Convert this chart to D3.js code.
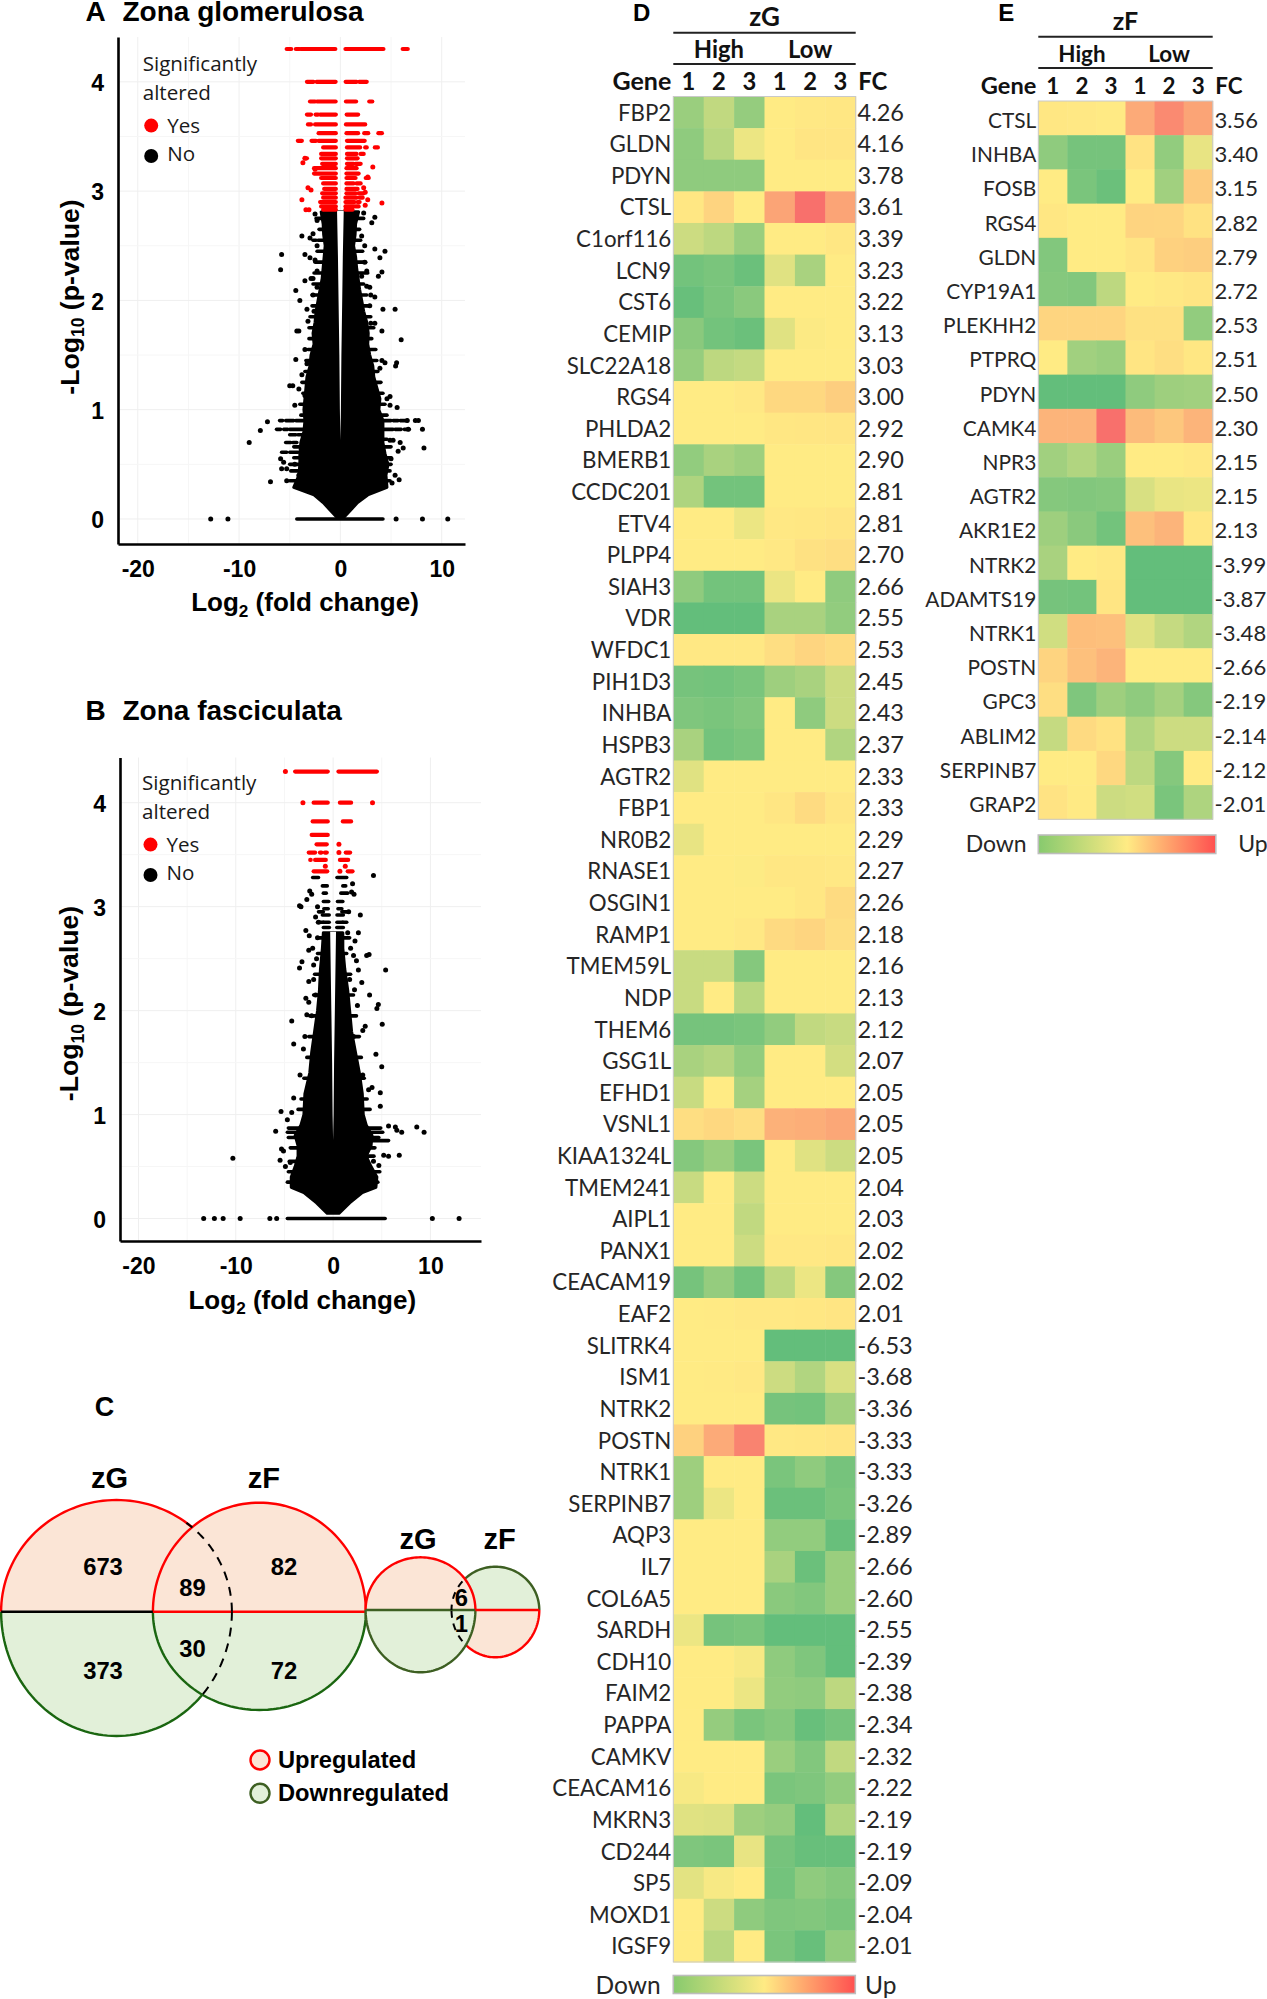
<!DOCTYPE html>
<html lang="en">
<head>
<meta charset="utf-8">
<title>Zona glomerulosa and zona fasciculata expression</title>
<script src="https://cdn.jsdelivr.net/npm/d3@7"></script>
<style>
  body { margin: 0; background: #fff; }
  svg { display: block; }
  text { font-family: "Liberation Sans", Arial, sans-serif; fill: #000; }
  .cal { font-family: Lato, "Liberation Sans", sans-serif; fill: #262626; }
  .leg { font-family: "Open Sans", sans-serif; fill: #1a1a1a; }
</style>
</head>
<body>
<svg id="fig" width="1267" height="1999"></svg>
<script>
// ---- panel A, zona glomerulosa: dense cloud outline
var aMassP = [2.81,2.7,2.6,2.5,2.4,2.3,2.2,2.1,2.0,1.9,1.8,1.7,1.6,1.5,1.4,1.3,1.2,1.1,1.0,0.9,0.8,0.7,0.6,0.5,0.4,0.29,0.22,0.15,0.08,0.02];
var aMassL = [-1.9,-1.7,-1.65,-1.5,-1.6,-1.7,-1.8,-2.0,-2.2,-2.4,-2.5,-2.7,-2.6,-2.9,-3.0,-3.3,-3.4,-3.5,-3.6,-3.5,-3.6,-3.9,-4.0,-4.0,-4.1,-4.6,-2.6,-1.7,-1.0,-0.4];
var aMassR = [1.8,1.5,1.45,1.3,1.5,1.6,1.75,1.9,2.1,2.3,2.6,2.75,2.7,2.9,3.2,3.3,3.6,3.9,3.8,4.2,4.2,4.2,4.4,4.7,4.5,4.6,2.7,1.7,1.0,0.4];
var aGapP = [2.82,2.4,2.0,1.5,1.0,0.72];
var aGapW = [0.33,0.24,0.18,0.1,0.05,0];
// rows of points sharing one p-value: [p, [from, to], ...]
var aRedRows = [
  [4.30,[-5.3,-4.85],[-4.4,-4.05],[-3.9,-0.5],[0.5,4.25],[6.15,6.65]],
  [4.00,[-3.3,-2.65],[-2.35,-0.47],[0.52,1.6],[1.85,2.6]],
  [3.82,[-3.0,-2.5],[-2.3,-0.47],[0.55,1.55],[2.85,3.15]],
  [3.70,[-3.3,-2.9],[-2.45,-2.2],[-2.0,-0.45],[0.62,1.75]],
  [3.61,[-3.2,-2.9],[-2.5,-0.45],[0.55,2.45]],
  [3.53,[-2.15,-0.45],[0.6,1.75],[2.35,2.75],[3.75,4.1]],
  [3.46,[-4.2,-3.8],[-2.85,-2.4],[-2.15,-0.45],[0.65,2.4]],
  [3.40,[-1.7,-0.45],[0.65,1.95],[2.45,2.6],[3.4,3.7]],
  [3.34,[-1.9,-0.45],[0.65,1.6],[2.0,2.3]],
  [3.30,[-1.9,-0.45],[0.65,1.7],[-3.5,-3.3]],
  [3.25,[-1.8,-0.45],[0.65,1.3],[1.5,2.0]],
  [3.21,[-2.6,-0.45],[0.6,1.6]],
  [3.16,[-2.6,-0.45],[0.6,1.8]],
  [3.12,[-1.9,-0.45],[0.6,1.5],[2.5,2.8]],
  [3.07,[-1.7,-0.45],[0.6,1.3],[1.6,2.0]],
  [3.02,[-1.6,-0.45],[0.6,1.7]],
  [2.98,[-1.8,-0.45],[0.6,1.5],[1.8,2.3]],
  [2.94,[-1.7,-0.45],[0.5,1.6],[1.9,2.2]],
  [2.90,[-2.0,-0.45],[0.5,1.4],[1.7,1.9]],
  [2.86,[-1.9,-0.45],[0.5,1.3],[1.5,1.8]],
  [2.83,[-1.7,-0.45],[0.5,1.2]]
];
var aRedDots = [[-3.8,2.92],[-3.4,2.83],[-3.1,2.83],[-3.2,3.03],[-2.9,3.01],[-3.7,3.26],[-3.5,3.3],[-2.5,3.2],[4.1,2.89],[3.2,3.22],[2.7,3.13],[2.3,3.03],[2.45,2.99],[2.7,2.92],[2.45,2.87]];
var aBlackRows = [
  [0.90,[-6.0,-5.7],[-5.4,-4.6],[-4.4,-3.6],[3.2,5.0],[5.2,5.7],[5.9,6.6]],
  [0.82,[-6.3,-5.9],[-5.6,-5.2],[-5.0,-3.5],[3.5,5.2],[5.4,6.0],[6.3,6.8]],
  [0.77,[-5.0,-4.4],[-4.2,-3.4]],
  [0.70,[-5.4,-4.9],[-4.7,-4.3]],
  [0.61,[-5.8,-5.3],[-5.0,-4.2],[-4.0,-3.6]],
  [0.0,[-4.3,4.2]],
  [2.75,[-2.4,-1.7],[1.5,2.3]],[2.65,[-2.1,-1.6],[1.4,1.9]],[2.55,[-2.7,-2.4],[-2.2,-1.6],[1.3,2.0]],
  [2.45,[-2.3,-1.5],[1.3,2.2]],[2.35,[-2.5,-1.6],[1.5,2.5]],[2.25,[-2.6,-1.7],[1.6,2.7]],
  [2.15,[-2.7,-1.9],[1.8,2.3]],[2.05,[-2.8,-2.1],[2.0,2.6]],[1.95,[-2.8,-2.3],[2.2,2.8]],
  [1.85,[-3.0,-2.4],[2.4,3.0]],[1.75,[-3.1,-2.6],[2.7,3.3]],[1.65,[-3.1,-2.6],[2.7,3.1]],
  [1.55,[-3.2,-2.8],[2.8,3.5]],[1.45,[-3.4,-2.9],[3.0,3.6]],[1.35,[-3.5,-3.2],[3.2,3.7]],
  [1.25,[-3.8,-3.3],[3.5,4.0]],[1.15,[-3.7,-3.4],[3.7,4.2]],[1.05,[-4.0,-3.5],[3.8,4.4]],
  [0.95,[-3.9,-3.5],[4.0,4.6]],[0.73,[3.9,4.6]],[0.66,[-4.6,-3.9],[4.0,5.0]],[0.56,[-4.6,-3.9],[4.2,5.0]],
  [0.50,[-5.0,-3.9],[4.5,5.0]],[0.44,[-4.9,-4.0],[4.4,4.9]],[0.35,[-5.0,-4.2],[4.4,4.9]]
];
var aBlackDots = [[-5.8,2.42],[-5.9,2.28],[-4.4,2.09],[-4,2],[-3.3,1.92],[-4.3,1.72],[-4.1,1.72],[-3.2,1.81],[-4.4,1.46],[-3.5,1.55],[-3.3,1.42],[-3.8,1.32],[-5,1.22],[-4.7,1.22],[-4.1,1.19],[-4.5,1.04],[-3.5,1.13],
  [-7.2,0.89],[-7.9,0.81],[-9,0.7],[-5.9,0.55],[-5.6,0.52],[-5.8,0.46],[-6.9,0.34],[-5.3,0.35],[-4.1,0.4],[-5.3,0.46],[-4.5,0.5],
  [-12.8,0],[-11.1,0],[5.5,0],[8.1,0],[10.6,0],
  [-2.5,2.79],[-2.3,2.73],[-3.8,2.59],[-3,2.57],[-2.7,2.61],[-3.5,2.42],[-2.3,2.5],[-2.5,2.37],[-3,2.39],[-2.3,2.27],[-2.7,2.2],[-3.5,2.18],[-2.3,2.12],[-2.7,2.05],[-2.9,2.2],[-2.6,1.9],
  [4.4,2.45],[3.4,2.47],[3.9,2.39],[4.1,2.26],[3.75,2.22],[3.4,2.03],[2.9,2.12],[5.4,1.92],[4.2,1.92],[4.1,1.72],[6,1.64],[3.4,1.79],[3,1.79],[5.55,1.43],[5.45,1.4],[4.1,1.45],[4.4,1.43],[3.9,1.38],[4.9,1.12],[4.6,1.1],[4.9,1.04],[5.6,1.02],
  [2.3,2.8],[3.4,2.76],[3.1,2.71],[2.1,2.59],[2.4,2.5],[2.4,2.35],[2.6,2.27],[2.1,2.22],[2.6,2.13],[3,2.05],[2.9,1.95],
  [6.6,0.9],[7.4,0.9],[7.7,0.9],[6.7,0.82],[8.1,0.82],[8.25,0.65],[5.9,0.7],[6.2,0.65],[5.7,0.62],[4.9,0.72],[5.2,0.72],[5.4,0.4],[5.8,0.36],[5.1,0.33],[5,0.55]];

// ---- panel B, zona fasciculata
var bMassP = [2.75,2.6,2.4,2.2,2.0,1.8,1.6,1.4,1.2,1.0,0.9,0.8,0.7,0.6,0.5,0.4,0.3,0.25,0.15,0.05];
var bMassL = [-1.0,-1.1,-1.3,-1.4,-1.6,-1.9,-2.2,-2.4,-2.9,-3.0,-3.3,-3.9,-3.6,-3.6,-3.9,-4.3,-4.3,-3.0,-1.7,-0.6];
var bMassR = [1.0,1.0,1.2,1.5,1.7,1.9,2.3,2.7,3.0,3.1,3.4,4.0,3.9,3.4,3.9,4.5,4.4,3.0,1.7,0.6];
var bGapP = [2.76,2.0,1.5,1.0,0.75];
var bGapW = [0.3,0.18,0.1,0.05,0];
var bRedRows = [
  [4.30,[-3.9,-0.55],[0.55,4.5]],
  [4.00,[-2.0,-0.55],[0.7,1.85]],
  [3.82,[-2.1,-0.55],[1.0,1.85]],
  [3.69,[-2.2,-0.55]],
  [3.60,[-1.7,-0.65]],
  [3.52,[-2.5,-1.85],[-1.35,-1.2],[-0.85,-0.65],[1.3,1.75]],
  [3.45,[-2.35,-2.3],[-1.85,-0.75],[0.7,1.55]],
  [3.34,[-2.0,-0.6],[1.5,2.0]]
];
var bRedDots = [[-4.9,4.3],[-3.1,4.0],[4.05,4.0],[0.6,3.6],[0.6,3.52],[-0.8,3.39],[1.25,3.39],[0.7,3.34]];
var bBlackRows = [
  [3.28,[-2.1,-1.5],[0.4,1.4]],
  [3.2,[-1.1,-0.6],[1.0,1.3]],
  [3.13,[-1.0,-0.7],[0.8,1.5]],
  [3.05,[-1.0,-0.45],[0.45,1.0]],[2.98,[-0.95,-0.5],[0.5,0.9]],[2.92,[-1.1,-0.4],[0.4,1.05]],
  [2.85,[-1.0,-0.4],[0.4,1.0]],[2.8,[-1.0,-0.38],[0.38,1.05]],
  [0.87,[-4.6,-3.0],[3.6,4.9]],
  [0.83,[-4.7,-2.8],[3.1,5.1]],
  [0.78,[-4.6,-3.0],[3.0,4.7]],
  [0.75,[2.8,5.7]],
  [0.60,[2.5,4.2]],
  [0.0,[-4.7,5.35]],
  [2.95,[-1.5,-1.0],[0.9,1.5]],[2.85,[-1.6,-1.0],[1.0,1.4]],[2.7,[-1.4,-1.0],[1.0,1.7]],
  [2.55,[-1.6,-1.0],[0.9,1.4]],[2.35,[-1.9,-1.2],[1.1,1.8]],[2.15,[-2.0,-1.3],[1.4,2.1]],
  [1.95,[-2.4,-1.5],[1.6,2.4]],[1.75,[-2.5,-1.8],[1.8,2.7]],[1.55,[-2.7,-2.1],[2.2,2.9]],
  [1.35,[-3.0,-2.4],[2.6,3.2]],[1.15,[-3.3,-2.8],[2.9,3.5]],[1.05,[-3.6,-2.9],[3.0,3.8]],
  [0.68,[-4.4,-3.5],[3.8,4.3]],[0.55,[-4.5,-3.5]],[0.45,[-4.6,-3.9],[3.9,4.8]],[0.35,[-4.7,-4.2],[4.3,4.6]]
];
var bBlackDots = [[4.15,3.3],[-4.25,1.9],[-4.05,1.68],[-3.45,3.01],[-3.3,3],[-2.7,3.07],[-2.4,3.15],[-2.2,3.12],[-2.8,2.77],[-2.45,2.72],[-2.5,2.58],[-3.2,2.47],[-3.45,2.41],[-2.5,2.28],[-2,2.44],[-2.8,2.12],[-2.7,1.96],[-2.5,2.08],[-2.9,1.75],[-3.05,1.63],[-3.4,1.38],[-4.05,1.16],[-5.35,1.03],[-4.7,0.95],[-4.25,1.02],[-5.9,0.84],[-10.3,0.58],[-5.45,0.56],[-5.1,0.65],[-5.3,0.67],[-4.9,0.5],[-4.4,0.54],
  [-1.8,2.9],[-1.6,2.7],[-2.1,2.6],[-1.7,2.5],[-2.0,2.3],[-1.8,2.15],[-2.2,1.95],[-1.6,3.0],[-1.5,2.85],
  [2.8,2.92],[2,3.22],[1.9,3.14],[2.15,3.12],[3.45,2.53],[3.7,2.54],[5.4,2.39],[2.6,2.75],[2.25,2.67],[2.1,2.53],[2.4,2.48],[2.6,2.39],[2.95,2.27],[3.75,2.15],[4.65,2.06],[4.5,2.02],[5.05,1.87],[3.3,1.85],[3.05,1.81],[4.4,1.58],[5,1.46],[4.85,1.21],[4.85,1.08],[4,1.26],[3.65,1.24],[3.05,1.38],
  [1.6,2.95],[1.5,2.75],[1.8,2.6],[1.7,2.3],[2.2,2.2],[2.5,2.05],[2.1,1.75],
  [5.7,0.89],[6.4,0.88],[6.55,0.85],[7.05,0.83],[8.6,0.88],[9.35,0.83],[5.2,0.61],[5.7,0.6],[6.8,0.61],[4.7,0.51],[4.15,0.55],
  [-13.3,0],[-12.2,0],[-11.3,0],[-9.55,0],[-6.5,0],[-5.8,0],[10.2,0],[12.95,0]];

var xTicks = [-20,-10,0,10];
var xMinorTicks = [-15,-5,5];
var yTicks = [0,1,2,3,4];
var yMinorTicks = [0.5,1.5,2.5,3.5];

// ---- panel C
var vennLeftCounts = ["673","89","82","373","30","72"];
var vennRightCounts = ["6","1"];
var vennLegend = ["Upregulated","Downregulated"];

// ---- panel D
var genesD = ["FBP2","GLDN","PDYN","CTSL","C1orf116","LCN9","CST6","CEMIP","SLC22A18","RGS4","PHLDA2","BMERB1","CCDC201","ETV4","PLPP4","SIAH3","VDR","WFDC1","PIH1D3","INHBA","HSPB3","AGTR2","FBP1","NR0B2","RNASE1","OSGIN1","RAMP1","TMEM59L","NDP","THEM6","GSG1L","EFHD1","VSNL1","KIAA1324L","TMEM241","AIPL1","PANX1","CEACAM19","EAF2","SLITRK4","ISM1","NTRK2","POSTN","NTRK1","SERPINB7","AQP3","IL7","COL6A5","SARDH","CDH10","FAIM2","PAPPA","CAMKV","CEACAM16","MKRN3","CD244","SP5","MOXD1","IGSF9"];
var fcD = ["4.26","4.16","3.78","3.61","3.39","3.23","3.22","3.13","3.03","3.00","2.92","2.90","2.81","2.81","2.70","2.66","2.55","2.53","2.45","2.43","2.37","2.33","2.33","2.29","2.27","2.26","2.18","2.16","2.13","2.12","2.07","2.05","2.05","2.05","2.04","2.03","2.02","2.02","2.01","-6.53","-3.68","-3.36","-3.33","-3.33","-3.26","-2.89","-2.66","-2.60","-2.55","-2.39","-2.38","-2.34","-2.32","-2.22","-2.19","-2.19","-2.09","-2.04","-2.01"];
var heatD = [
[-.65,-.4,-.68,0,.02,.03],[-.72,-.45,-.12,0,.05,.05],[-.72,-.72,-.72,0,0,0],[.03,.18,0,.55,.95,.55],[-.33,-.42,-.65,0,0,.03],
[-.9,-.85,-.95,-.2,-.55,0],[-.97,-.85,-.75,0,0,0],[-.75,-.9,-.95,-.2,-.02,0],[-.67,-.42,-.38,0,0,0],[0,0,.02,.15,.15,.22],
[0,0,0,.03,.04,.05],[-.7,-.55,-.62,0,0,0],[-.52,-.9,-.9,0,0,0],[0,0,-.12,.02,.03,.05],[0,0,0,.02,.08,.1],
[-.72,-.9,-.9,-.13,0,-.72],[-1,-1,-1,-.55,-.55,-.7],[.02,.02,.02,.1,.17,.12],[-.88,-.9,-.85,-.62,-.55,-.33],[-.82,-.85,-.8,0,-.72,-.33],
[-.55,-.9,-.85,0,0,-.5],[-.2,0,0,0,0,0],[0,0,0,.04,.12,.04],[-.15,0,0,0,0,0],[0,0,-.01,.03,.03,.02],
[0,0,0,0,.03,.12],[0,0,.02,.13,.17,.1],[-.35,-.35,-.78,0,0,0],[-.35,0,-.45,0,0,0],[-.88,-.88,-.85,-.7,-.4,-.35],
[-.55,-.48,-.7,0,0,-.28],[-.35,0,-.58,0,0,0],[.1,.15,.1,.45,.47,.52],[-.78,-.65,-.85,0,-.2,-.33],[-.35,0,-.33,0,0,0],
[0,0,-.4,0,0,0],[0,0,-.33,.02,.02,.03],[-.88,-.68,-.9,-.42,-.12,-.78],[0,.01,.02,.02,.03,.05],[0,0,0,-1,-1,-1],
[0,.01,.02,-.33,-.5,-.25],[0,0,0,-.88,-.9,-.6],[.2,.5,.8,.02,.03,.05],[-.62,0,0,-.85,-.72,-.88],[-.62,-.12,0,-.95,-.95,-.85],
[0,0,0,-.7,-.7,-.97],[0,0,0,-.55,-.95,-.65],[0,0,0,-.75,-.8,-.65],[-.12,-.88,-.85,-1,-1,-1],[0,0,-.05,-.72,-.82,-1],
[0,0,-.12,-.7,-.72,-.42],[0,-.68,-.85,-.78,-.97,-.88],[0,0,0,-.65,-.8,-.4],[-.05,0,0,-.85,-.82,-.7],[-.2,-.22,-.62,-.68,-1,-.5],
[-.82,-.85,-.15,-.88,-.97,-.97],[-.18,-.05,0,-.9,-.72,-.78],[0,-.33,-.72,-.82,-.8,-.85],[0,-.45,0,-.85,-.97,-.7]];

// ---- panel E
var genesE = ["CTSL","INHBA","FOSB","RGS4","GLDN","CYP19A1","PLEKHH2","PTPRQ","PDYN","CAMK4","NPR3","AGTR2","AKR1E2","NTRK2","ADAMTS19","NTRK1","POSTN","GPC3","ABLIM2","SERPINB7","GRAP2"];
var fcE = ["3.56","3.40","3.15","2.82","2.79","2.72","2.53","2.51","2.50","2.30","2.15","2.15","2.13","-3.99","-3.87","-3.48","-2.66","-2.19","-2.14","-2.12","-2.01"];
var heatE = [
[.03,.02,.01,.5,.75,.55],[-.72,-.88,-.88,.06,-.7,-.15],[0,-.85,-.95,0,-.6,.25],[.03,0,0,.18,.17,.07],[-.8,0,0,.05,.2,.22],
[-.78,-.8,-.42,0,.02,.05],[.17,.17,.17,.08,.08,-.7],[0,-.6,-.65,.05,.1,.03],[-1,-1,-1,-.72,-.62,-.6],[.42,.42,.95,.37,.28,.42],
[-.6,-.5,-.65,0,0,.02],[-.78,-.8,-.78,-.25,-.14,-.12],[-.62,-.75,-.9,.33,.42,.03],[-.55,0,.02,-1,-1,-1],[-.88,-.9,.05,-1,-1,-1],
[-.3,.35,.33,-.2,-.37,-.5],[.18,.33,.42,0,0,0],[.1,-.82,-.62,-.72,-.58,-.78],[-.37,.13,.07,-.5,-.33,-.33],[0,0,.15,-.42,-.78,0],[.06,.01,-.33,-.3,-.85,-.52]];

var sampleCols = ["1","2","3","1","2","3"];

var svg = d3.select("#fig");

// -Log10 and Log2 labels need a lowered digit, so they are built from tspans
function subLabel(g, before, sub, after, size) {
  var t = g.append("text").attr("font-weight", "bold").attr("font-size", size).attr("text-anchor", "middle");
  t.append("tspan").text(before);
  t.append("tspan").attr("font-size", size * 0.66).attr("dy", size * 0.22).text(sub);
  t.append("tspan").attr("dy", -size * 0.22).text(after);
  return t;
}

function volcano(p) {
  var x = d3.scaleLinear().domain(p.xDomain).range([p.left, p.right]);
  var y = d3.scaleLinear().domain(p.yDomain).range([p.bottom, p.top]);
  var g = svg.append("g");

  // faint grid first
  g.append("g").selectAll("line").data(xMinorTicks).enter().append("line")
    .attr("x1", x).attr("x2", x).attr("y1", p.top).attr("y2", p.bottom).attr("stroke", "#f6f6f6");
  g.append("g").selectAll("line").data(xTicks).enter().append("line")
    .attr("x1", x).attr("x2", x).attr("y1", p.top).attr("y2", p.bottom).attr("stroke", "#efefef");
  g.append("g").selectAll("line").data(yMinorTicks).enter().append("line")
    .attr("y1", y).attr("y2", y).attr("x1", p.left).attr("x2", p.right).attr("stroke", "#f6f6f6");
  g.append("g").selectAll("line").data(yTicks).enter().append("line")
    .attr("y1", y).attr("y2", y).attr("x1", p.left).attr("x2", p.right).attr("stroke", "#efefef");

  var idx = d3.range(p.massP.length);
  g.append("path")
    .attr("d", d3.area().y(function(i) { return y(p.massP[i]); })
      .x0(function(i) { return x(p.massL[i]); })
      .x1(function(i) { return x(p.massR[i]); })(idx))
    .attr("fill", "#000").attr("stroke", "#000").attr("stroke-width", 3).attr("stroke-linejoin", "round");

  function rows(data, colour, width) {
    data.forEach(function(r) {
      r.slice(1).forEach(function(s) {
        g.append("line").attr("x1", x(s[0])).attr("x2", x(s[1])).attr("y1", y(r[0])).attr("y2", y(r[0]))
          .attr("stroke", colour).attr("stroke-width", width).attr("stroke-linecap", "round");
      });
    });
  }
  rows(p.blackRows, "#000", 3.6);

  // the white slit along fold change 0
  var gapIdx = d3.range(p.gapP.length);
  g.append("path")
    .attr("d", d3.area().y(function(i) { return y(p.gapP[i]); })
      .x0(function(i) { return x(-p.gapW[i]); })
      .x1(function(i) { return x(p.gapW[i]); })(gapIdx))
    .attr("fill", "#fff");

  rows(p.redRows, "#f00", 4.2);

  g.append("g").selectAll("circle").data(p.blackDots).enter().append("circle")
    .attr("cx", function(d) { return x(d[0]); }).attr("cy", function(d) { return y(d[1]); })
    .attr("r", 2.5).attr("fill", "#000");
  g.append("g").selectAll("circle").data(p.redDots).enter().append("circle")
    .attr("cx", function(d) { return x(d[0]); }).attr("cy", function(d) { return y(d[1]); })
    .attr("r", 2.5).attr("fill", "#f00");

  // axes, plain hyphen and whole numbers on the tick labels
  var ax = g.append("g").attr("transform", "translate(0," + p.bottom + ")")
    .call(d3.axisBottom(x).tickValues(xTicks).tickFormat(String).tickSize(0).tickPadding(17));
  var ay = g.append("g").attr("transform", "translate(" + p.left + ",0)")
    .call(d3.axisLeft(y).tickValues(yTicks).tickFormat(String).tickSize(0).tickPadding(14));
  [ax, ay].forEach(function(a) {
    a.select(".domain").attr("stroke", "#000").attr("stroke-width", 2.6);
    a.selectAll("text").attr("font-size", 23).attr("font-weight", "bold").attr("fill", "#000")
      .attr("font-family", "Liberation Sans");
  });
  ay.selectAll("text").attr("dy", "0.38em");

  // titles
  g.append("text").attr("x", p.letterX).attr("y", p.titleY).attr("font-weight", "bold").attr("font-size", 28).text(p.letter);
  g.append("text").attr("x", p.letterX + 37).attr("y", p.titleY).attr("font-weight", "bold").attr("font-size", 28).text(p.title);
  subLabel(g, "Log", "2", " (fold change)", 26).attr("x", p.xLabelX).attr("y", p.xLabelY);
  subLabel(g, "-Log", "10", " (p-value)", 26.6)
    .attr("transform", "translate(" + p.yLabelX + "," + p.yLabelY + ") rotate(-90)");

  // inline legend
  g.append("text").attr("class", "leg").attr("x", p.legX).attr("y", p.legY).attr("font-size", 20.6).text("Significantly");
  g.append("text").attr("class", "leg").attr("x", p.legX).attr("y", p.legY + 28.7).attr("font-size", 20.6).text("altered");
  g.append("circle").attr("cx", p.legX + 8.5).attr("cy", p.legY + 54.6).attr("r", 7).attr("fill", "#f00");
  g.append("text").attr("class", "leg").attr("x", p.legX + 24.5).attr("y", p.legY + 61.5).attr("font-size", 20.6).text("Yes");
  g.append("circle").attr("cx", p.legX + 8.5).attr("cy", p.legY + 85).attr("r", 7).attr("fill", "#000");
  g.append("text").attr("class", "leg").attr("x", p.legX + 24.5).attr("y", p.legY + 90).attr("font-size", 20.6).text("No");
}

volcano({ letter: "A", title: "Zona glomerulosa", letterX: 85.5, titleY: 20.5,
  xDomain: [-21.95, 12.3], yDomain: [-0.229, 4.41], left: 118, right: 465, top: 37, bottom: 544,
  massP: aMassP, massL: aMassL, massR: aMassR, gapP: aGapP, gapW: aGapW,
  redRows: aRedRows, redDots: aRedDots, blackRows: aBlackRows, blackDots: aBlackDots,
  xLabelX: 305, xLabelY: 611, yLabelX: 78.5, yLabelY: 297, legX: 142.7, legY: 71 });

volcano({ letter: "B", title: "Zona fasciculata", letterX: 85.5, titleY: 719.6,
  xDomain: [-21.9, 15.2], yDomain: [-0.216, 4.435], left: 120, right: 481, top: 757.5, bottom: 1241,
  massP: bMassP, massL: bMassL, massR: bMassR, gapP: bGapP, gapW: bGapW,
  redRows: bRedRows, redDots: bRedDots, blackRows: bBlackRows, blackDots: bBlackDots,
  xLabelX: 302.3, xLabelY: 1308.6, yLabelX: 78, yLabelY: 1003.5, legX: 142, legY: 790 });

// ---- venn diagrams: each circle is two half ellipses meeting on the split line
var upFill = "#fbe5d6", downFill = "#e2f0d9", upLine = "#f00", downLine = "#1a6610", downLine2 = "#3d5f22";

function halfPath(c, upper, t0, t1) {
  var ry = upper ? c.ryUp : c.ryDown;
  var sign = upper ? -1 : 1;
  var pts = d3.range(t0, t1 + 0.001, (t1 - t0) / 80).map(function(t) {
    return [c.cx + c.rx * Math.cos(t), c.line + sign * ry * Math.sin(t)];
  });
  return d3.line()(pts);
}
function half(g, c, upper, fill, stroke) {
  g.append("path").attr("d", halfPath(c, upper, 0, Math.PI) + "Z").attr("fill", fill).attr("stroke", "none");
  g.append("path").attr("d", halfPath(c, upper, 0, Math.PI)).attr("fill", "none").attr("stroke", stroke).attr("stroke-width", 2.4);
}
var venn = svg.append("g");
var cG = { cx: 116.5, line: 1611.7, rx: 115.4, ryUp: 111.7, ryDown: 124.3 };
var cF = { cx: 259.4, line: 1611.7, rx: 106.5, ryUp: 109, ryDown: 98.3 };
half(venn, cG, true, upFill, upLine);
half(venn, cG, false, downFill, downLine);
half(venn, cF, true, upFill, upLine);
half(venn, cF, false, downFill, downLine);
venn.append("path").attr("d", "M" + (cG.cx - cG.rx) + "," + cG.line + "H" + (cF.cx - cF.rx)).attr("stroke", "#000").attr("stroke-width", 2.4);
venn.append("path").attr("d", "M" + (cF.cx - cF.rx) + "," + cF.line + "H" + (cF.cx + cF.rx)).attr("stroke", upLine).attr("stroke-width", 2.4);
venn.append("path").attr("d", halfPath(cG, true, 0, 0.92)).attr("fill", "none").attr("stroke", "#000").attr("stroke-width", 2).attr("stroke-dasharray", "9 7");
venn.append("path").attr("d", halfPath(cG, false, 0, 0.74)).attr("fill", "none").attr("stroke", "#000").attr("stroke-width", 2).attr("stroke-dasharray", "9 7");

var cG2 = { cx: 420.5, line: 1610, rx: 54.9, ryUp: 52.7, ryDown: 62.3 };
var cF2 = { cx: 495.4, line: 1610, rx: 43.9, ryUp: 43.3, ryDown: 47.3 };
half(venn, cF2, true, downFill, downLine2);
half(venn, cF2, false, upFill, upLine);
half(venn, cG2, true, upFill, upLine);
half(venn, cG2, false, downFill, downLine2);
venn.append("path").attr("d", "M" + (cG2.cx - cG2.rx) + "," + cG2.line + "H" + (cG2.cx + cG2.rx)).attr("stroke", downLine2).attr("stroke-width", 2.4);
venn.append("path").attr("d", "M" + (cG2.cx + cG2.rx) + "," + cF2.line + "H" + (cF2.cx + cF2.rx)).attr("stroke", upLine).attr("stroke-width", 2.4);
venn.append("path").attr("d", halfPath(cF2, true, 2.42, Math.PI)).attr("fill", "none").attr("stroke", "#000").attr("stroke-width", 2).attr("stroke-dasharray", "7 6");
venn.append("path").attr("d", halfPath(cF2, false, 2.42, Math.PI)).attr("fill", "none").attr("stroke", "#000").attr("stroke-width", 2).attr("stroke-dasharray", "7 6");

var vennLeftPos = [[103,1575],[192.5,1595.5],[284,1575],[103,1679],[192.5,1657],[284,1679]];
venn.selectAll(".nL").data(vennLeftCounts).enter().append("text").attr("class", "nL")
  .attr("x", function(d, i) { return vennLeftPos[i][0]; }).attr("y", function(d, i) { return vennLeftPos[i][1]; })
  .attr("text-anchor", "middle").attr("font-weight", "bold").attr("font-size", 23.8).text(function(d) { return d; });
var vennRightPos = [[461.4,1606],[461.4,1632]];
venn.selectAll(".nR").data(vennRightCounts).enter().append("text").attr("class", "nR")
  .attr("x", function(d, i) { return vennRightPos[i][0]; }).attr("y", function(d, i) { return vennRightPos[i][1]; })
  .attr("text-anchor", "middle").attr("font-weight", "bold").attr("font-size", 23.8).text(function(d) { return d; });

[["zG",109.6,1487.5],["zF",263.8,1487.5],["zG",418,1549],["zF",499.6,1549]].forEach(function(l) {
  venn.append("text").attr("x", l[1]).attr("y", l[2]).attr("text-anchor", "middle").attr("font-weight", "bold").attr("font-size", 29).text(l[0]);
});
venn.append("text").attr("x", 104.5).attr("y", 1415.5).attr("text-anchor", "middle").attr("font-weight", "bold").attr("font-size", 27).text("C");

venn.selectAll(".lg").data(vennLegend).enter().append("circle").attr("class", "lg")
  .attr("cx", 260).attr("cy", function(d, i) { return 1760 + i * 33.3; }).attr("r", 9.5)
  .attr("fill", function(d, i) { return i ? downFill : upFill; })
  .attr("stroke", function(d, i) { return i ? downLine2 : upLine; }).attr("stroke-width", 2.4);
venn.selectAll(".lgt").data(vennLegend).enter().append("text").attr("class", "lgt")
  .attr("x", 278).attr("y", function(d, i) { return 1767.7 + i * 33.3; })
  .attr("font-weight", "bold").attr("font-size", 23.7).text(function(d) { return d; });

// ---- heat maps, the same three colour scale on both
var heatColour = d3.scaleLinear().domain([-1, 0, 1]).range(["#63be7b", "#ffeb84", "#f8696b"]);

var gradient = svg.append("defs").append("linearGradient").attr("id", "legendRamp");
[["0%", "#87ca6e"], ["50%", "#ffeb84"], ["100%", "#ff5050"]].forEach(function(s) {
  gradient.append("stop").attr("offset", s[0]).attr("stop-color", s[1]);
});

function heatmap(p) {
  var g = svg.append("g");
  var x = d3.scaleBand().domain(d3.range(6)).range([p.left, p.right]);
  var y = d3.scaleBand().domain(p.genes).range([p.top, p.bottom]);

  p.values.forEach(function(row, r) {
    g.append("g").selectAll("rect").data(row).enter().append("rect")
      .attr("x", function(d, i) { return x(i); })
      .attr("y", y(p.genes[r]))
      .attr("width", x.bandwidth() + 0.5)
      .attr("height", y.bandwidth() + 0.5)
      .attr("fill", function(d) { return heatColour(d); });
  });
  g.append("rect").attr("x", p.left).attr("y", p.top).attr("width", p.right - p.left).attr("height", p.bottom - p.top)
    .attr("fill", "none").attr("stroke", "#c9c9c9").attr("stroke-width", 1);

  g.selectAll(".gene").data(p.genes).enter().append("text").attr("class", "cal gene")
    .attr("x", p.left - 2).attr("y", function(d) { return y(d) + y.bandwidth() / 2 + p.size * p.lift; })
    .attr("text-anchor", "end").attr("font-size", p.size).text(function(d) { return d; });
  g.selectAll(".fc").data(p.fc).enter().append("text").attr("class", "cal fc")
    .attr("x", p.right + 1.8).attr("y", function(d, i) { return y(p.genes[i]) + y.bandwidth() / 2 + p.size * p.lift; })
    .attr("font-size", p.fcSize).text(function(d) { return d; });

  // header rows
  function bold(t, xx, yy, anchor, size) {
    return g.append("text").attr("class", "cal").attr("x", xx).attr("y", yy).attr("text-anchor", anchor || "middle")
      .attr("font-weight", "bold").attr("font-size", size || p.size + 1.5).style("fill", "#111").text(t);
  }
  g.append("text").attr("x", p.letterX).attr("y", 21).attr("font-weight", "bold").attr("font-size", 24).text(p.letter);
  bold(p.zone, (p.left + p.right) / 2, p.zoneY, "middle", p.zoneSize);
  [p.line1, p.line2].forEach(function(ly) {
    g.append("line").attr("x1", p.left).attr("x2", p.right).attr("y1", ly).attr("y2", ly).attr("stroke", "#222").attr("stroke-width", 2);
  });
  bold("High", x(1) + x.bandwidth() / 2, p.groupY);
  bold("Low", x(4) + x.bandwidth() / 2, p.groupY);
  bold("Gene", p.left - 2, p.headY, "end", p.size + 2.7);
  sampleCols.forEach(function(c, i) { bold(c, x(i) + x.bandwidth() / 2, p.headY); });
  bold("FC", p.right + 2.5, p.headY, "start");

  // colour bar
  g.append("rect").attr("x", p.left).attr("y", p.barY).attr("width", p.barW).attr("height", p.barH)
    .attr("fill", "url(#legendRamp)").attr("stroke", "#bdbdbd").attr("stroke-width", 1.6);
  g.append("text").attr("class", "cal").attr("x", p.downX).attr("y", p.barTextY).attr("text-anchor", "end").attr("font-size", p.size * 1.1).text("Down");
  g.append("text").attr("class", "cal").attr("x", p.upX).attr("y", p.barTextY).attr("font-size", p.size * 1.1).text("Up");
}

heatmap({ letter: "D", letterX: 633, zone: "zG", genes: genesD, fc: fcD, values: heatD, size: 22.3, fcSize: 23.5, lift: 0.37, zoneSize: 26,
  left: 673.3, right: 855.7, top: 96.5, bottom: 1962, zoneY: 25.5, line1: 32.7, groupY: 57.7, line2: 64, headY: 90,
  barY: 1975.5, barW: 182, barH: 18, barTextY: 1994, downX: 660.7, upX: 865 });

heatmap({ letter: "E", letterX: 998.3, zone: "zF", genes: genesE, fc: fcE, values: heatE, size: 20.9, fcSize: 22, lift: 0.47, zoneSize: 25,
  left: 1038.3, right: 1212.7, top: 101, bottom: 819.3, zoneY: 29.5, line1: 36.7, groupY: 62, line2: 68, headY: 94.3,
  barY: 835, barW: 177.5, barH: 18.5, barTextY: 852, downX: 1026.7, upX: 1238.3 });
</script>
</body>
</html>
